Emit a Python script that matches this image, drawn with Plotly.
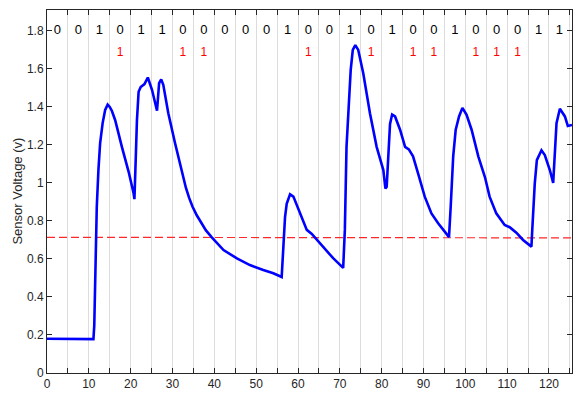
import plotly.graph_objects as go

# Sensor trace (time in s, voltage in V)
time_s = [0, 11.1, 11.3, 11.5, 11.9, 12.3, 12.7, 13.3, 13.9, 14.5, 15.0, 15.5, 16.3, 17.9, 19.5,
          20.7, 20.9, 21.2, 21.5, 21.9, 22.4, 23.3, 24.1, 25.1, 26.3, 26.8, 27.3, 27.8, 29.0, 30.6,
          31.8, 33.2, 34.0, 34.8, 35.8, 36.8, 38.0, 39.4, 40.8, 42.2, 45.4, 48.5, 51.7, 54.1, 56.1,
          56.5, 56.9, 57.3, 58.1, 58.9, 60.5, 62.1, 63.3, 64.6, 66.0, 68.4, 70.8, 71.2, 71.6, 72.0,
          72.6, 73.1, 73.7, 74.4, 75.6, 77.2, 78.8, 80.4, 80.9, 81.2, 81.6, 82.0, 82.5, 83.2, 84.4,
          85.6, 86.5, 87.5, 88.7, 90.3, 91.9, 93.5, 95.5, 96.1, 96.5, 97.1, 97.7, 98.5, 99.3, 100.3,
          101.5, 103.1, 104.7, 105.8, 107.4, 109.4, 110.6, 112.2, 113.8, 115.8, 116.0, 116.6, 117.1,
          118.2, 119.0, 120.2, 121.0, 121.4, 121.8, 122.6, 123.8, 124.5, 125.5]
voltage = [0.18, 0.178, 0.25, 0.44, 0.875, 1.07, 1.21, 1.315, 1.384, 1.412, 1.40, 1.38, 1.33, 1.19, 1.06,
           0.946, 0.915, 1.12, 1.33, 1.48, 1.505, 1.52, 1.555, 1.49, 1.38, 1.525, 1.545, 1.516, 1.367, 1.21,
           1.10, 0.975, 0.92, 0.875, 0.83, 0.79, 0.75, 0.714, 0.678, 0.647, 0.603, 0.568, 0.542, 0.525, 0.505,
           0.647, 0.82, 0.89, 0.94, 0.928, 0.84, 0.753, 0.732, 0.70, 0.665, 0.604, 0.553, 0.753, 1.19, 1.367,
           1.595, 1.70, 1.725, 1.70, 1.577, 1.367, 1.19, 1.068, 0.97, 0.98, 1.14, 1.31, 1.36, 1.35, 1.28,
           1.19, 1.177, 1.14, 1.05, 0.928, 0.84, 0.788, 0.732, 0.715, 0.875, 1.14, 1.28, 1.35, 1.395, 1.358,
           1.28, 1.14, 1.03, 0.928, 0.84, 0.779, 0.767, 0.738, 0.70, 0.665, 0.753, 0.998, 1.12,
           1.172, 1.147, 1.068, 1.0, 1.14, 1.314, 1.39, 1.35, 1.30, 1.305]
assert len(time_s) == len(voltage)

# Threshold line
threshold_x = [0, 125.5]
threshold_y = [0.714, 0.711]

# Decoded bits per 5 s window
bit_window = 5
decoded_bits = [0, 0, 1, 0, 1, 1, 0, 0, 0, 0, 0, 1, 0, 0, 1, 0, 1, 0, 0, 1, 0, 0, 0, 1, 1]
bit_label_y = 1.8
error_windows = [3, 6, 7, 12, 15, 17, 18, 20, 21, 22]
error_labels = ["1"] * len(error_windows)
error_label_y = 1.685

x_ticks = list(range(0, 126, 5))
x_ticktext = [str(v) if v % 10 == 0 else "" for v in x_ticks]
y_ticks = [round(0.2 * i, 1) for i in range(10)]

FONT = "Liberation Sans, Arial"

fig = go.Figure()
fig.add_trace(go.Scatter(x=threshold_x, y=threshold_y, mode="lines",
                         line=dict(color="rgb(255,40,40)", width=1.2, dash="8px,4px"),
                         hoverinfo="skip", showlegend=False))
fig.add_trace(go.Scatter(x=time_s, y=voltage, mode="lines",
                         line=dict(color="#0000ff", width=2.6), showlegend=False))
fig.add_trace(go.Scatter(x=[bit_window * k + bit_window / 2 for k in range(len(decoded_bits))],
                         y=[bit_label_y] * len(decoded_bits),
                         text=[str(b) for b in decoded_bits], mode="text",
                         textfont=dict(color="#000000", size=13, family=FONT),
                         cliponaxis=False, showlegend=False))
fig.add_trace(go.Scatter(x=[bit_window * k + bit_window / 2 for k in error_windows],
                         y=[error_label_y] * len(error_windows),
                         text=error_labels, mode="text",
                         textfont=dict(color="#ff0000", size=12, family=FONT),
                         cliponaxis=False, showlegend=False))

axis_common = dict(showline=True, linecolor="#262626", linewidth=1, mirror="ticks",
                   ticks="inside", ticklen=5, tickcolor="#262626", zeroline=False,
                   automargin=False,
                   tickfont=dict(size=12, color="#262626", family=FONT))

fig.update_xaxes(range=[0, 125.5], tickmode="array", tickvals=x_ticks, ticktext=x_ticktext,
                 showgrid=True, gridcolor="#dcdcdc", gridwidth=1, **axis_common)
fig.update_yaxes(range=[0, 1.91], tickmode="array", tickvals=y_ticks,
                 ticktext=[("%g" % v) for v in y_ticks], showgrid=False,
                 **axis_common)

fig.add_annotation(text="Sensor Voltage (v)", textangle=-90, showarrow=False,
                   xref="paper", yref="paper", x=-0.057, y=0.5,
                   xanchor="center", yanchor="middle",
                   font=dict(size=13, color="#262626", family=FONT))

fig.update_layout(width=573, height=396, margin=dict(l=47, r=1, t=10, b=23),
                  plot_bgcolor="white", paper_bgcolor="white",
                  font=dict(family=FONT))

fig.write_html("out.html", config={"displayModeBar": False},
               post_script="document.body.style.margin='0';")
